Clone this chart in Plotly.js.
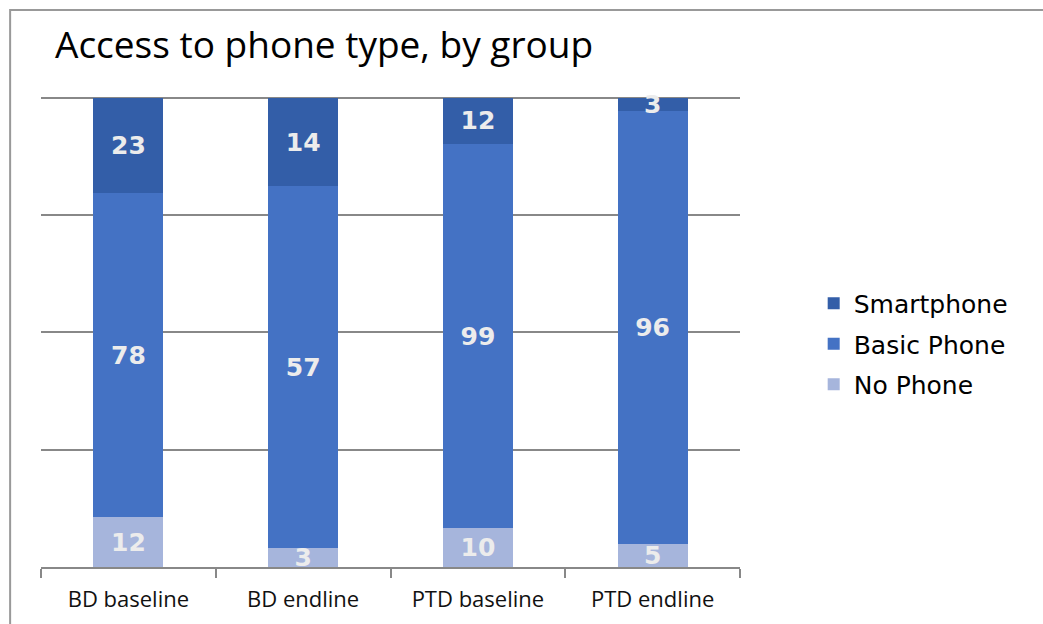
<!DOCTYPE html>
<html>
<head>
<meta charset="utf-8">
<script src="https://cdn.plot.ly/plotly-3.0.1.min.js"></script>
<style>html,body{margin:0;padding:0;background:#fff;}#chart{width:1043px;height:624px;}</style>
</head>
<body>
<div id="chart"></div>
<script>
const categories = ["BD baseline", "BD endline", "PTD baseline", "PTD endline"];
const noPhone = [12, 3, 10, 5];
const basicPhone = [78, 57, 99, 96];
const smartphone = [23, 14, 12, 3];

const labelFont = {family: "DejaVu Sans", size: 25, color: "#ececec", weight: "bold"};
function series(name, vals, color, rank) {
  return {
    type: "bar", name: name, x: categories, y: vals, legendgroup: name, legendrank: rank,
    marker: {color: color},
    text: vals.map(String), textposition: "inside", insidetextanchor: "middle",
    textangle: 0, constraintext: "none",
    textfont: labelFont, hoverinfo: "skip"
  };
}
const data = [
  series("No Phone", noPhone, "#a6b5dc", 3),
  series("Basic Phone", basicPhone, "#4472c4", 2),
  series("Smartphone", smartphone, "#335ea8", 1)
];
const plotH = 474;
const layout = {
  width: 1043, height: 624,
  margin: {l: 41, r: 303, t: 93, b: 57},
  barmode: "stack", barnorm: "percent", bargap: 0.6,
  paper_bgcolor: "#fff", plot_bgcolor: "#fff",
  title: {text: "Access to phone type, by group", x: 55/1043, xanchor: "left", y: 1 - 45/624, yref: "container", yanchor: "middle",
          font: {family: "Open Sans", size: 37, color: "#000"}},
  xaxis: {showline: true, linecolor: "#888", linewidth: 2, ticks: "outside", tickson: "boundaries",
          ticklen: 9, tickwidth: 2, tickcolor: "#888", showgrid: false, ticklabelstandoff: 12,
          tickfont: {family: "Open Sans", size: 22, color: "#111"}, fixedrange: true},
  yaxis: {range: [0, 101], tickvals: [0, 25, 50, 75, 100], showticklabels: false, showgrid: true,
          gridcolor: "#888", gridwidth: 2, zeroline: false, showline: false, fixedrange: true},
  legend: {x: (817-41)/702, xanchor: "left", y: (567-344)/plotH, yanchor: "middle", traceorder: "grouped",
           font: {family: "DejaVu Sans", size: 25, color: "#000"}, itemwidth: 30, tracegroupgap: 5},
  shapes: [{type: "rect", xref: "paper", yref: "paper", x0: -31/702, x1: 1.6, y0: -0.3, y1: 557/plotH,
            line: {color: "#999", width: 2}, fillcolor: "rgba(0,0,0,0)", layer: "below"}],
  showlegend: true
};
Plotly.newPlot("chart", data, layout, {displayModeBar: false, staticPlot: true});
</script>
</body>
</html>
